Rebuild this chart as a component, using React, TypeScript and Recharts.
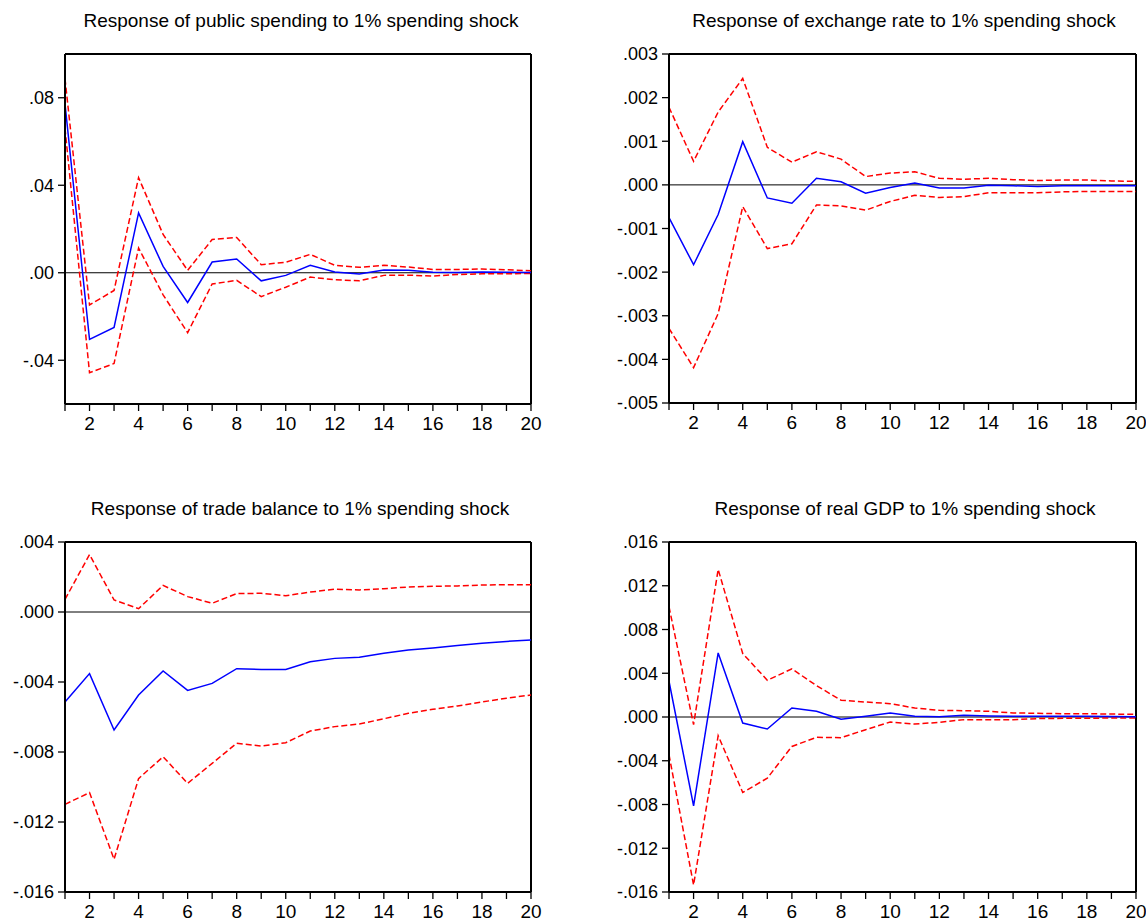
import React from 'react';
import { LineChart, Line, XAxis, YAxis, ReferenceLine } from 'recharts';

const periods = [1, 2, 3, 4, 5, 6, 7, 8, 9, 10, 11, 12, 13, 14, 15, 16, 17, 18, 19, 20];

const spendingResp = [0.0772, -0.0305, -0.025, 0.0274, 0.0029, -0.0136, 0.0049, 0.0063, -0.0037, -0.0012, 0.0034, 0.0003, -0.0006, 0.0012, 0.0011, 0.0002, 0.0001, 0.0003, 0.0002, 0.0001];
const spendingUpper = [0.0887, -0.0147, -0.0081, 0.0435, 0.0175, 0.0011, 0.0152, 0.0161, 0.0037, 0.0048, 0.0084, 0.0034, 0.0025, 0.0034, 0.0026, 0.0015, 0.0015, 0.0017, 0.0014, 0.0009];
const spendingLower = [0.066, -0.0457, -0.0415, 0.0113, -0.0101, -0.0274, -0.0051, -0.0035, -0.0109, -0.0066, -0.002, -0.0032, -0.0037, -0.0012, -0.0011, -0.0015, -0.0008, -0.0005, -0.0005, -0.0003];

const exchangeResp = [-0.00075, -0.00183, -0.00068, 0.00099, -0.0003, -0.00042, 0.00015, 0.00007, -0.00019, -0.00006, 0.00004, -0.00007, -0.00007, -0.00001, -0.00002, -0.00004, -0.00002, -0.00002, -0.00002, -0.00002];
const exchangeUpper = [0.00178, 0.00054, 0.00167, 0.00244, 0.00086, 0.00052, 0.00076, 0.00059, 0.00019, 0.00027, 0.0003, 0.00015, 0.00013, 0.00015, 0.00012, 0.0001, 0.00011, 0.00011, 0.00009, 0.00008];
const exchangeLower = [-0.00329, -0.00419, -0.00295, -0.0005, -0.00146, -0.00135, -0.00046, -0.00048, -0.00058, -0.00038, -0.00024, -0.00029, -0.00027, -0.00018, -0.00018, -0.00018, -0.00016, -0.00015, -0.00015, -0.00015];

const tradeResp = [-0.00514, -0.00352, -0.00674, -0.00474, -0.00337, -0.00448, -0.00408, -0.00324, -0.00328, -0.00328, -0.00284, -0.00265, -0.00259, -0.00236, -0.00217, -0.00206, -0.00192, -0.00179, -0.00168, -0.0016];
const tradeUpper = [0.00072, 0.00328, 0.00069, 0.00019, 0.00152, 0.00088, 0.0005, 0.00105, 0.00107, 0.00093, 0.00114, 0.0013, 0.00126, 0.00133, 0.00143, 0.00147, 0.00149, 0.00154, 0.00156, 0.00156];
const tradeLower = [-0.01099, -0.01032, -0.01413, -0.00952, -0.00827, -0.00979, -0.00865, -0.0075, -0.00766, -0.00747, -0.0068, -0.00655, -0.0064, -0.0061, -0.00579, -0.00556, -0.00537, -0.00514, -0.00493, -0.00474];

const gdpResp = [0.00327, -0.00812, 0.00586, -0.00055, -0.0011, 0.00082, 0.00052, -0.00021, 0.00006, 0.00037, 0.00006, 0.00003, 0.00015, 0.00009, 0.00006, 0.00006, 0.00006, 0.00006, 0.00005, 0.00003];
const gdpUpper = [0.01008, -0.0007, 0.0135, 0.0058, 0.00336, 0.0044, 0.00287, 0.00153, 0.00137, 0.00122, 0.00082, 0.00061, 0.00058, 0.00052, 0.00037, 0.00034, 0.0003, 0.0003, 0.00027, 0.00024];
const gdpLower = [-0.00345, -0.01536, -0.00171, -0.0069, -0.00559, -0.00269, -0.00186, -0.00189, -0.00116, -0.00046, -0.00064, -0.00049, -0.00024, -0.00024, -0.00024, -0.00015, -0.00012, -0.00012, -0.00009, -0.00009];

const titles = [
  'Response of public spending to 1% spending shock',
  'Response of exchange rate to 1% spending shock',
  'Response of trade balance to 1% spending shock',
  'Response of real GDP to 1% spending shock',
];

const spendingTicks = [-0.04, 0, 0.04, 0.08];
const exchangeTicks = [-0.005, -0.004, -0.003, -0.002, -0.001, 0, 0.001, 0.002, 0.003];
const tradeTicks = [-0.016, -0.012, -0.008, -0.004, 0, 0.004];
const gdpTicks = [-0.016, -0.012, -0.008, -0.004, 0, 0.004, 0.008, 0.012, 0.016];

const FONT = '"Liberation Sans", Arial, sans-serif';

type PanelProps = {
  title: string;
  resp: number[];
  upper: number[];
  lower: number[];
  domain: [number, number];
  ticks: number[];
  digits: number;
  left: number;
  top: number;
  width: number;
  height: number;
  margin: { top: number; right: number; left: number; bottom: number };
  yWidth: number;
  xHeight: number;
  titleX: number;
  titleY: number;
};

function fmt(v: number, digits: number) {
  const s = v.toFixed(digits);
  return s.replace('0.', '.');
}

function Panel(p: PanelProps) {
  const data = periods.map((t, i) => ({ t, resp: p.resp[i], upper: p.upper[i], lower: p.lower[i] }));
  return (
    <>
      <div
        style={{
          position: 'absolute',
          left: p.titleX - 300,
          width: 600,
          top: p.titleY,
          textAlign: 'center',
          fontFamily: FONT,
          fontSize: 19,
          lineHeight: '20px',
          color: '#000',
          whiteSpace: 'nowrap',
        }}
      >
        {p.title}
      </div>
      <div style={{ position: 'absolute', left: p.left, top: p.top }}>
        <LineChart width={p.width} height={p.height} data={data} margin={p.margin}>
          <XAxis
            dataKey="t"
            type="number"
            domain={[1, 20]}
            ticks={periods}
            interval={0}
            tickFormatter={(v: number) => (v % 2 === 0 ? String(v) : '')}
            height={p.xHeight}
            tickSize={7}
            tickMargin={6}
            axisLine={{ stroke: '#000', strokeWidth: 2 }}
            tickLine={{ stroke: '#000', strokeWidth: 1.3 }}
            tick={{ fill: '#000', fontSize: 19, fontFamily: FONT }}
          />
          <YAxis
            type="number"
            domain={p.domain}
            ticks={p.ticks}
            interval={0}
            allowDataOverflow
            width={p.yWidth}
            tickSize={7}
            tickMargin={4}
            tickFormatter={(v: number) => fmt(v, p.digits)}
            axisLine={{ stroke: '#000', strokeWidth: 2 }}
            tickLine={{ stroke: '#000', strokeWidth: 1.3 }}
            tick={{ fill: '#000', fontSize: 18, fontFamily: FONT }}
          />
          <ReferenceLine y={p.domain[1]} stroke="#000" strokeWidth={2} />
          <ReferenceLine x={20} stroke="#000" strokeWidth={2} />
          <ReferenceLine y={0} stroke="#000" strokeWidth={1} />
          <Line type="linear" dataKey="upper" stroke="#ff0000" strokeWidth={1.5} strokeDasharray="6 3" dot={false} isAnimationActive={false} />
          <Line type="linear" dataKey="lower" stroke="#ff0000" strokeWidth={1.5} strokeDasharray="6 3" dot={false} isAnimationActive={false} />
          <Line type="linear" dataKey="resp" stroke="#0000ff" strokeWidth={1.5} dot={false} isAnimationActive={false} />
        </LineChart>
      </div>
    </>
  );
}

export default function App() {
  return (
    <div style={{ position: 'absolute', left: 0, top: 0, width: 1146, height: 921, background: '#fff' }}>
      <Panel
        title={titles[0]}
        resp={spendingResp}
        upper={spendingUpper}
        lower={spendingLower}
        domain={[-0.06, 0.1]}
        ticks={spendingTicks}
        digits={2}
        left={0}
        top={0}
        width={573}
        height={440}
        margin={{ top: 54, right: 42, left: 0, bottom: 6 }}
        yWidth={65}
        xHeight={30}
        titleX={301}
        titleY={11}
      />
      <Panel
        title={titles[1]}
        resp={exchangeResp}
        upper={exchangeUpper}
        lower={exchangeLower}
        domain={[-0.005, 0.003]}
        ticks={exchangeTicks}
        digits={3}
        left={573}
        top={0}
        width={573}
        height={440}
        margin={{ top: 54, right: 10, left: 26, bottom: 7 }}
        yWidth={70}
        xHeight={30}
        titleX={904}
        titleY={11}
      />
      <Panel
        title={titles[2]}
        resp={tradeResp}
        upper={tradeUpper}
        lower={tradeLower}
        domain={[-0.016, 0.004]}
        ticks={tradeTicks}
        digits={3}
        left={0}
        top={480}
        width={573}
        height={441}
        margin={{ top: 62, right: 42, left: 0, bottom: 4 }}
        yWidth={65}
        xHeight={25}
        titleX={300}
        titleY={499}
      />
      <Panel
        title={titles[3]}
        resp={gdpResp}
        upper={gdpUpper}
        lower={gdpLower}
        domain={[-0.016, 0.016]}
        ticks={gdpTicks}
        digits={3}
        left={573}
        top={480}
        width={573}
        height={441}
        margin={{ top: 62, right: 10, left: 26, bottom: 4 }}
        yWidth={70}
        xHeight={25}
        titleX={905}
        titleY={499}
      />
    </div>
  );
}
